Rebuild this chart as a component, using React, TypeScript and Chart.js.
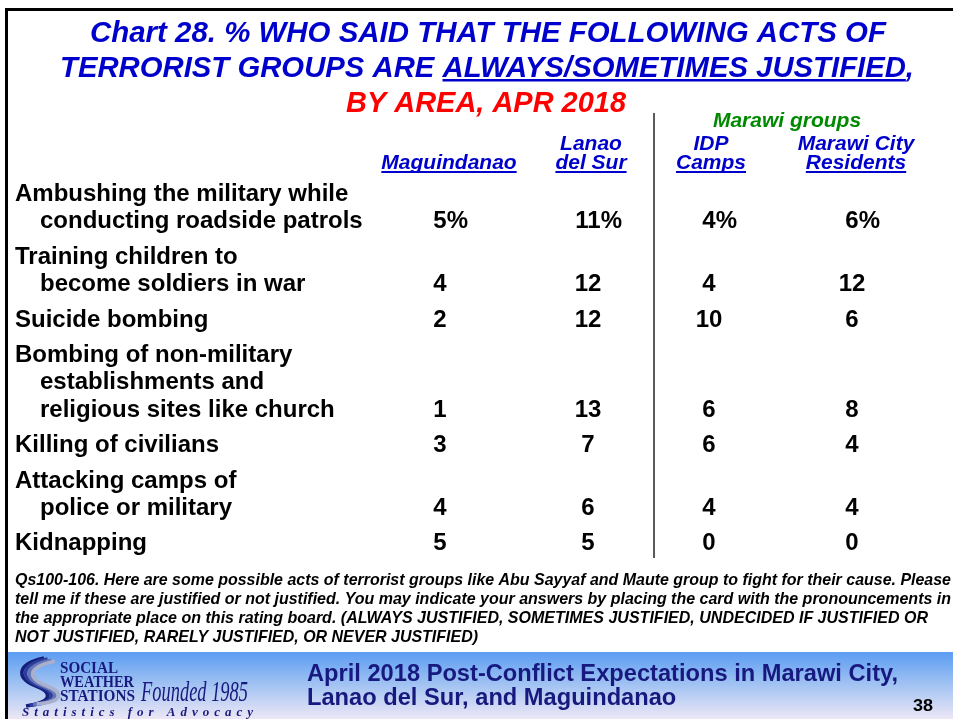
import React, { useEffect, useRef } from 'react';
import { Chart, registerables } from 'chart.js';

Chart.register(...registerables);

// ---------------- data ----------------
const TITLE_LINE_1 = 'Chart 28. % WHO SAID THAT THE FOLLOWING ACTS OF';
const TITLE_LINE_2_PRE = 'TERRORIST GROUPS ARE ';
const TITLE_LINE_2_UNDERLINED = 'ALWAYS/SOMETIMES JUSTIFIED';
const TITLE_LINE_2_POST = ',';
const TITLE_LINE_3 = 'BY AREA, APR 2018';
const GROUP_LABEL = 'Marawi groups';

const AREAS = [['Maguindanao'], ['Lanao', 'del Sur'], ['IDP', 'Camps'], ['Marawi City', 'Residents']];

const ACTS = [
  ['Ambushing the military while', 'conducting roadside patrols'],
  ['Training children to', 'become soldiers in war'],
  ['Suicide bombing'],
  ['Bombing of non-military', 'establishments and', 'religious sites like church'],
  ['Killing of civilians'],
  ['Attacking camps of', 'police or military'],
  ['Kidnapping'],
];

const MAGUINDANAO = [5, 4, 2, 1, 3, 4, 5];
const LANAO_DEL_SUR = [11, 12, 12, 13, 7, 6, 5];
const IDP_CAMPS = [4, 4, 10, 6, 6, 4, 0];
const MARAWI_CITY_RESIDENTS = [6, 12, 6, 8, 4, 4, 0];
const SERIES = [MAGUINDANAO, LANAO_DEL_SUR, IDP_CAMPS, MARAWI_CITY_RESIDENTS];

const FOOTNOTE = [
  'Qs100-106. Here are some possible acts of terrorist groups like Abu Sayyaf and Maute group to fight for their cause. Please',
  'tell me if these are justified or not justified. You may indicate your answers by placing the card with the pronouncements in',
  'the appropriate place on this rating board. (ALWAYS JUSTIFIED, SOMETIMES JUSTIFIED, UNDECIDED IF JUSTIFIED OR',
  'NOT JUSTIFIED, RARELY JUSTIFIED, OR NEVER JUSTIFIED)',
];
const FOOTER_TITLE = ['April 2018 Post-Conflict Expectations in Marawi City,', 'Lanao del Sur, and Maguindanao'];
const PAGE_NUMBER = '38';
const LOGO_WORDS = ['SOCIAL', 'WEATHER', 'STATIONS'];
const LOGO_FOUNDED = 'Founded 1985';
const LOGO_TAGLINE = 'Statistics for Advocacy';

// ---------------- layout (scale units = canvas px) ----------------
const W = 953;
const H = 719;
const COL_X = [440, 588, 709, 852];
const HEAD_X = [449, 591, 711, 856];
const HEAD_BASE = [150, 169];
const GROUP_X = 787;
const GROUP_BASE = 127;
const DIVIDER_X = 654;
const DIVIDER_TOP = 113;
const DIVIDER_BOTTOM = 558;
const LABEL_X = [15, 40];
const ROW_TOP = 201;
const LINE_H = 27.4;
const ROW_H = 35.4;
const BAND_TOP = 652;

const SANS = '"Liberation Sans", Arial, Helvetica, sans-serif';
const NARROW = '"Liberation Sans Narrow", "Liberation Sans", Arial, sans-serif';
const SERIF = '"Liberation Serif", "Times New Roman", serif';
const BLUE = '#0000cc';
const RED = '#ff0000';
const GREEN = '#008a00';
const NAVY = '#17197e';

const LINE_BASELINES: number[][] = (() => {
  let y = ROW_TOP;
  return ACTS.map((lines, i) => {
    if (i > 0) y += ROW_H;
    return lines.map((_, k) => {
      if (k > 0) y += LINE_H;
      return y;
    });
  });
})();
const VALUE_Y = LINE_BASELINES.map((b) => b[b.length - 1]);

// draws text, optionally stretched/compressed (by width or by factor)
function fitText(
  ctx: CanvasRenderingContext2D,
  text: string,
  x: number,
  y: number,
  font: string,
  color: string,
  width?: number,
  align: 'left' | 'center' | 'right' = 'left',
  factor?: number
) {
  ctx.save();
  ctx.font = font;
  ctx.fillStyle = color;
  ctx.textBaseline = 'alphabetic';
  ctx.textAlign = 'left';
  const w = ctx.measureText(text).width;
  const sx = factor ? factor : width ? width / w : 1;
  const dw = w * sx;
  const left = align === 'center' ? x - dw / 2 : align === 'right' ? x - dw : x;
  ctx.translate(left, y);
  ctx.scale(sx, 1);
  ctx.fillText(text, 0, 0);
  ctx.restore();
  return { left, width: dw, sx };
}

function spacedText(ctx: CanvasRenderingContext2D, text: string, x: number, y: number, width: number, font: string, color: string) {
  ctx.save();
  ctx.font = font;
  ctx.fillStyle = color;
  ctx.textAlign = 'left';
  const chars = text.split('');
  const total = chars.reduce((s, c) => s + ctx.measureText(c).width, 0);
  const gap = (width - total) / (chars.length - 1);
  let cx = x;
  chars.forEach((c) => {
    ctx.fillText(c, cx, y);
    cx += ctx.measureText(c).width + gap;
  });
  ctx.restore();
}

const slidePlugin = {
  id: 'slide',
  beforeDraw(chart: any) {
    const ctx: CanvasRenderingContext2D = chart.ctx;
    const xs = chart.scales.x;
    const ys = chart.scales.y;
    const px = (v: number) => xs.getPixelForValue(v);
    const py = (v: number) => ys.getPixelForValue(v);
    ctx.save();
    ctx.fillStyle = '#ffffff';
    ctx.fillRect(0, 0, chart.width, chart.height);
    const g = ctx.createLinearGradient(0, py(BAND_TOP), 0, py(H));
    g.addColorStop(0, '#5b9cf2');
    g.addColorStop(0.45, '#9cc0f2');
    g.addColorStop(1, '#ede7f6');
    ctx.fillStyle = g;
    ctx.fillRect(px(8), py(BAND_TOP), px(W) - px(8), py(H) - py(BAND_TOP));
    ctx.fillStyle = '#000000';
    ctx.fillRect(px(5), py(8), px(W) - px(5), 3);
    ctx.fillRect(px(5), py(8), 3, py(H) - py(8));
    ctx.restore();
  },
  afterDatasetsDraw(chart: any) {
    const ctx: CanvasRenderingContext2D = chart.ctx;
    const xs = chart.scales.x;
    const ys = chart.scales.y;
    const px = (v: number) => xs.getPixelForValue(v);
    const py = (v: number) => ys.getPixelForValue(v);

    // ---- title ----
    const tf = `italic bold 29px ${SANS}`;
    fitText(ctx, TITLE_LINE_1, px(488), py(42), tf, BLUE, 796, 'center');
    {
      const full = TITLE_LINE_2_PRE + TITLE_LINE_2_UNDERLINED + TITLE_LINE_2_POST;
      const r = fitText(ctx, full, px(487), py(77), tf, BLUE, 854, 'center');
      ctx.save();
      ctx.font = tf;
      const pre = ctx.measureText(TITLE_LINE_2_PRE).width * r.sx;
      const und = ctx.measureText(TITLE_LINE_2_UNDERLINED).width * r.sx;
      ctx.fillStyle = BLUE;
      ctx.fillRect(r.left + pre, py(79), und, 2.5);
      ctx.restore();
    }
    fitText(ctx, TITLE_LINE_3, px(486), py(112), tf, RED, 280, 'center');

    // ---- column headers ----
    const hf = `italic bold 21px ${SANS}`;
    fitText(ctx, GROUP_LABEL, px(GROUP_X), py(GROUP_BASE), hf, GREEN, undefined, 'center');
    AREAS.forEach((lines, c) => {
      lines.forEach((t, k) => {
        const base = lines.length === 1 ? HEAD_BASE[1] : HEAD_BASE[k];
        const r = fitText(ctx, t, px(HEAD_X[c]), py(base), hf, BLUE, undefined, 'center');
        if (k === lines.length - 1) {
          ctx.save();
          ctx.fillStyle = BLUE;
          ctx.fillRect(r.left, py(base + 2), r.width, 2);
          ctx.restore();
        }
      });
    });

    // ---- divider ----
    ctx.save();
    ctx.strokeStyle = '#5a5a5a';
    ctx.lineWidth = 2;
    ctx.beginPath();
    ctx.moveTo(px(DIVIDER_X), py(DIVIDER_TOP));
    ctx.lineTo(px(DIVIDER_X), py(DIVIDER_BOTTOM));
    ctx.stroke();
    ctx.restore();

    // ---- row labels ----
    const lf = `bold 24px ${SANS}`;
    ACTS.forEach((lines, r) => {
      lines.forEach((t, k) => {
        fitText(ctx, t, px(LABEL_X[k === 0 ? 0 : 1]), py(LINE_BASELINES[r][k]), lf, '#000000');
      });
    });

    // ---- values (positioned by the dataset elements) ----
    ctx.save();
    ctx.font = lf;
    ctx.fillStyle = '#000000';
    ctx.textBaseline = 'alphabetic';
    SERIES.forEach((vals, c) => {
      const meta = chart.getDatasetMeta(c);
      meta.data.forEach((el: any, j: number) => {
        const txt = String(vals[j]);
        const w = ctx.measureText(txt).width;
        ctx.textAlign = 'center';
        ctx.fillText(txt, el.x, el.y);
        if (j === 0) {
          ctx.textAlign = 'left';
          ctx.fillText('%', el.x + w / 2, el.y);
        }
      });
    });
    ctx.restore();

    // ---- footnote ----
    const ff = `italic bold 17px ${NARROW}`;
    const fw = [936, 936, 913, 463];
    const fb = [585, 604, 623, 642];
    FOOTNOTE.forEach((t, i) => fitText(ctx, t, px(15), py(fb[i]), ff, '#000000', fw[i]));

    // ---- footer ----
    const bf = `bold 23px ${SANS}`;
    const r1 = fitText(ctx, FOOTER_TITLE[0], px(307), py(681), bf, NAVY, 591);
    fitText(ctx, FOOTER_TITLE[1], px(307), py(705), bf, NAVY, undefined, 'left', r1.sx);
    fitText(ctx, PAGE_NUMBER, px(913), py(711), `bold 16px ${SANS}`, '#000000', 20);

    // ---- logo ----
    ctx.save();
    const stripes = ['#16207a', '#2c3d9c', '#6576b8', '#a9afcc'];
    stripes.forEach((col, i) => {
      const o = i * 3.6;
      ctx.strokeStyle = col;
      ctx.lineWidth = 3.6;
      ctx.beginPath();
      ctx.moveTo(px(44 + o), py(658 + o * 0.3));
      ctx.bezierCurveTo(px(16 + o), py(664 + o * 0.3), px(16 + o), py(678), px(36 + o), py(686));
      ctx.bezierCurveTo(px(52 + o), py(692), px(54 + o), py(702), px(26 + o), py(706 - o * 0.2));
      ctx.stroke();
    });
    ctx.restore();
    const sf = `bold 16px ${SERIF}`;
    fitText(ctx, LOGO_WORDS[0], px(60), py(673), sf, NAVY, 58);
    fitText(ctx, LOGO_WORDS[1], px(60), py(687), sf, NAVY, 74);
    fitText(ctx, LOGO_WORDS[2], px(60), py(701), sf, NAVY, 75);
    fitText(ctx, LOGO_FOUNDED, px(141), py(701), `italic 30px ${SERIF}`, NAVY, 107);
    spacedText(ctx, LOGO_TAGLINE, px(22), py(716), 231, `italic bold 13px ${SERIF}`, NAVY);
  },
};

export default function App() {
  const ref = useRef<HTMLCanvasElement | null>(null);
  useEffect(() => {
    if (!ref.current) return;
    const chart = new Chart(ref.current, {
      type: 'scatter',
      data: {
        datasets: SERIES.map((vals, c) => ({
          label: AREAS[c].join(' '),
          data: vals.map((_, r) => ({ x: COL_X[c], y: VALUE_Y[r] })),
          pointRadius: 0,
          pointHoverRadius: 0,
          showLine: false,
        })),
      },
      options: {
        responsive: false,
        animation: false,
        events: [],
        layout: { padding: 0 },
        plugins: {
          legend: { display: false },
          tooltip: { enabled: false },
          title: { display: false },
        },
        scales: {
          x: { type: 'linear', min: 0, max: W, display: false },
          y: { type: 'linear', min: 0, max: H, reverse: true, display: false },
        },
      },
      plugins: [slidePlugin as any],
    });
    return () => chart.destroy();
  }, []);
  return (
    <div style={{ position: 'fixed', left: 0, top: 0, width: W, height: H, background: '#fff' }}>
      <canvas ref={ref} width={W} height={H} style={{ display: 'block', width: W, height: H }} />
    </div>
  );
}
